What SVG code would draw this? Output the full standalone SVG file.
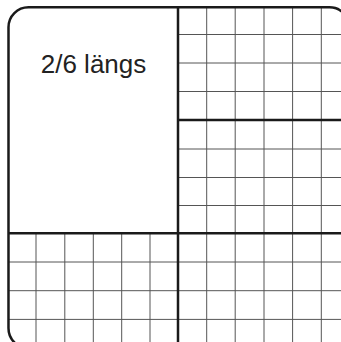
<svg xmlns="http://www.w3.org/2000/svg" width="341" height="342" viewBox="0 0 341 342">
  <style>
    .thin { stroke: #555; stroke-width: 1; fill: none; }
    .thick { stroke: #1a1a1a; stroke-width: 2.5; fill: none; }
    .label { font-family: "Liberation Sans", Arial, sans-serif; font-size: 26px; fill: #222; }
  </style>
  <defs>
    <clipPath id="outer">
      <rect x="8.5" y="7.3" width="341" height="341" rx="20" ry="20"/>
    </clipPath>
  </defs>
  <rect x="0" y="0" width="341" height="342" fill="#fff"/>
  <g clip-path="url(#outer)">
    <g id="top-right-grid">
      <path class="thin" d="M178 34.5H352M178 63H352M178 91.5H352M178 149H352M178 177.5H352M178 205.5H352"/>
      <path class="thin" d="M206.7 0V233M235.2 0V233M264 0V233M292.6 0V233M321.3 0V233"/>
    </g>
    <g id="bottom-left-grid">
      <path class="thin" d="M0 262H178M0 290.7H178M0 319.4H178"/>
      <path class="thin" d="M36 233V350M64.8 233V350M93.3 233V350M121.7 233V350M150 233V350"/>
    </g>
    <g id="bottom-right-grid">
      <path class="thin" d="M178 262H352M178 290.7H352M178 319.4H352"/>
      <path class="thin" d="M206.7 233V350M235.2 233V350M264 233V350M292.6 233V350M321.3 233V350"/>
    </g>
    <g id="dividers">
      <path class="thick" d="M178 0V350"/>
      <path class="thick" d="M178 120H352"/>
      <path class="thick" d="M0 233.3H352"/>
    </g>
  </g>
  <rect id="border" class="thick" x="8.5" y="7.3" width="341" height="341" rx="20" ry="20"/>
  <g id="label-box">
    <text class="label" x="93.5" y="73.3" text-anchor="middle">2/6 längs</text>
  </g>
</svg>
